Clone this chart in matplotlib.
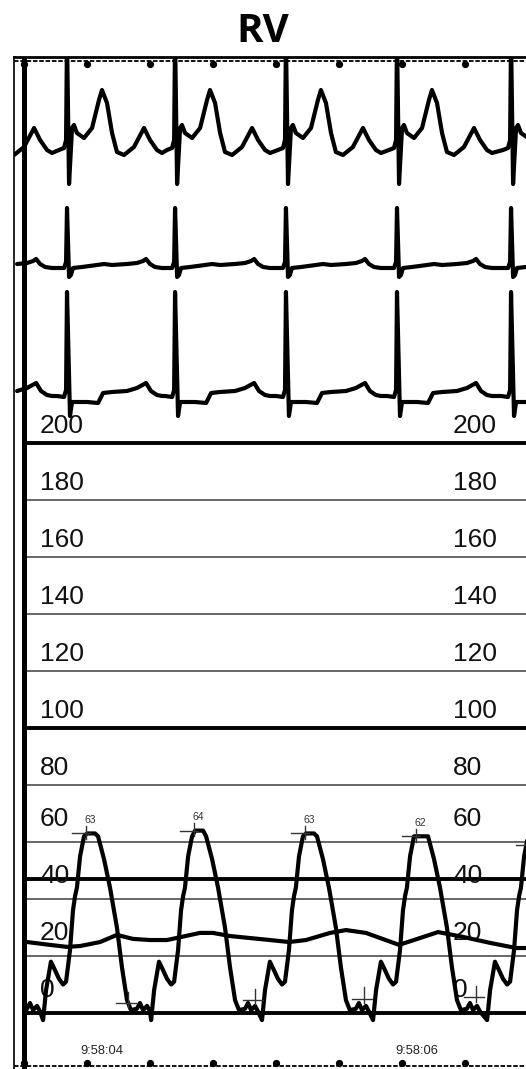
import matplotlib
matplotlib.use("Agg")
import matplotlib.pyplot as plt
import matplotlib.transforms as mtransforms

# time in seconds, 0 = 9:58:04
r_times = [-0.825, -0.127, 0.559, 1.263, 1.968, 2.692]

# ECG beat shapes (offset from R in s, amplitude in mV)
ecg1_off = [-0.051, -0.019, -0.006, 0.000, 0.013, 0.032, 0.044, 0.063, 0.108, 0.159, 0.203,
            0.222, 0.254, 0.286, 0.317, 0.362, 0.425, 0.489, 0.527, 0.571, 0.603]
ecg1_val = [-0.02, 0.00, 0.08, 1.10, -0.36, 0.20, 0.23, 0.15, 0.10, 0.20, 0.48,
            0.58, 0.45, 0.15, -0.04, -0.07, 0.01, 0.20, 0.08, -0.02, -0.05]

ecg2_off = [-0.063, -0.019, -0.006, 0.000, 0.013, 0.025, 0.038, 0.095, 0.190, 0.235, 0.286,
            0.381, 0.444, 0.483, 0.502, 0.527, 0.559, 0.603]
ecg2_val = [0.00, 0.00, 0.06, 0.60, -0.09, -0.07, 0.00, 0.01, 0.03, 0.04, 0.03,
            0.04, 0.05, 0.07, 0.09, 0.04, 0.01, 0.00]

ecg3_off = [-0.063, -0.019, -0.006, 0.000, 0.019, 0.032, 0.051, 0.127, 0.197, 0.229, 0.286,
            0.381, 0.444, 0.502, 0.533, 0.571, 0.603]
ecg3_val = [0.00, -0.01, 0.06, 1.04, -0.20, -0.06, -0.06, -0.06, -0.07, 0.03, 0.04,
            0.05, 0.08, 0.13, 0.05, 0.01, 0.00]

ecg_base = [2.95, 1.75, 0.47]

# RV pressure beat shape (offset from R in s, mmHg); None = systolic peak of the beat
prv_off = [-0.152, -0.133, -0.102, -0.076, -0.051, -0.025, -0.006, 0.019, 0.038, 0.051, 0.063,
           0.083, 0.108, 0.127, 0.178, 0.197, 0.235, 0.273, 0.317, 0.349, 0.381, 0.406,
           0.444, 0.463, 0.483, 0.508, 0.527]
prv_val = [-2.5, 8, 18, 15, 12, 10, 11, 22, 36, 41, 44,
           55, 62, None, None, 62, 54, 44, 30, 16, 4.5, 1,
           1.5, 3.5, 1, 2.5, 0.5]
peak_values = [63, 63, 64, 63, 62, 59]
peak_labels = ["63", "64", "63", "62"]

# end-diastolic markers
edp_times = [0.260, 1.067, 1.759, 2.470]
edp_values = [3.5, 4.5, 5.0, 5.5]

# slow second pressure trace
slow_t = [-0.381, -0.235, -0.127, -0.044, 0.083, 0.190, 0.292, 0.400, 0.508, 0.717, 0.800,
          0.908, 1.035, 1.162, 1.283, 1.390, 1.543, 1.644, 1.771, 1.981, 2.114, 2.229,
          2.387, 2.559, 2.724, 2.787]
slow_p = [24.9, 23.9, 23.2, 23.5, 24.9, 27.4, 26.0, 25.6, 25.6, 28.1, 28.1,
          27.0, 26.3, 25.6, 24.9, 25.6, 28.1, 29.1, 28.1, 23.9, 26.3, 28.4,
          26.7, 24.6, 22.8, 22.8]

scale_labels = [200, 180, 160, 140, 120, 100, 80, 60, 40, 20, 0]
thin_levels = [180, 160, 140, 120, 80, 60, 40, 20]
thick_levels = [200, 100, 47, 0]

tick_times = [-0.4, 0.0, 0.4, 0.8, 1.2, 1.6, 2.0, 2.4]
time_labels = {0.0: "9:58:04", 2.0: "9:58:06"}

ecg_start = -0.465
p_start = -0.381
t_left, t_right = -0.4635, 2.787


def build(times, offs, vals, t0, peaks=None):
    ts, vs = [], []
    for i, r in enumerate(times):
        for o, v in zip(offs, vals):
            if v is None:
                v = peaks[i]
            if r + o >= t0:
                ts.append(r + o)
                vs.append(v)
    return ts, vs


W, H = 526, 1069
fig = plt.figure(figsize=(W / 100, H / 100), dpi=100)
ax = fig.add_axes([14 / W, 0, 1 - 14 / W, (H - 57) / H])
ax.set_xlim(t_left, t_right)
ax.set_ylim(-19.65, 335.44)
ax.set_xticks([])
ax.set_yticks([])
for s in ("right", "bottom"):
    ax.spines[s].set_visible(False)
ax.spines["left"].set_linewidth(1.2)
ax.spines["top"].set_linewidth(2.0)

ecg = ax.twinx()
ecg.set_ylim(-6.26, 3.86)
ecg.set_yticks([])
for s in ecg.spines.values():
    s.set_visible(False)

# pressure grid
ax.hlines(thin_levels, -0.4, t_right, color="#5a5a5a", lw=1.3, zorder=1)
ax.hlines(thick_levels, -0.4, t_right, color="black", lw=2.8, zorder=1)
ax.axvline(-0.4, color="black", lw=3.6, zorder=4)

for v in scale_labels:
    dy = 3.5 if v >= 80 else 5.5
    for x in (-0.298, 2.324):
        ax.text(x, v + dy, str(v), fontsize=19, family="Liberation Sans",
                ha="left", va="baseline", color="#111111", zorder=1)

# time scale at top and bottom
trans = mtransforms.blended_transform_factory(ax.transData, ax.transAxes)
for yl, yb in ((0.996, 0.9935), (0.0025, 0.0058)):
    ax.plot([t_left, t_right], [yl, yl], transform=trans, color="black", lw=1.3,
            linestyle=(0, (2.5, 1)), clip_on=False)
    ax.plot(tick_times, [yb] * len(tick_times), "o", transform=trans, color="black",
            ms=4.2, clip_on=False)
for t, lab in time_labels.items():
    ax.text(t - 0.04, 0.0178, lab, transform=trans, fontsize=9.3, family="Liberation Sans",
            ha="left", va="center", color="#222222")

# ECG leads
for (offs, vals), base in zip(((ecg1_off, ecg1_val), (ecg2_off, ecg2_val), (ecg3_off, ecg3_val)),
                              ecg_base):
    ts, vs = build(r_times, offs, vals, ecg_start)
    ecg.plot(ts, [v + base for v in vs], color="black", lw=3.0, solid_joinstyle="round",
             solid_capstyle="round")

# pressures
ts, ps = build(r_times, prv_off, prv_val, p_start, peak_values)
ax.plot(ts, ps, color="black", lw=3.0, zorder=3, solid_joinstyle="round")
ax.plot(slow_t, slow_p, color="black", lw=3.0, zorder=3)

for i, lab in enumerate(peak_labels):
    r = r_times[i + 1]
    pk = peak_values[i + 1]
    ax.plot([r + 0.032, r + 0.146], [pk, pk], color="#333333", lw=1, zorder=3)
    ax.plot([r + 0.121, r + 0.121], [pk - 2, pk + 2.5], color="#333333", lw=1, zorder=3)
    ax.text(r + 0.146, pk + 4.7, lab, fontsize=7.5, family="Liberation Sans",
            ha="center", va="center", color="#333333", zorder=3)
r5 = r_times[-1]
ax.plot([r5 + 0.032, t_right], [peak_values[-1]] * 2, color="#333333", lw=1, zorder=3)

for t, v in zip(edp_times, edp_values):
    ax.plot([t - 0.076, t + 0.051], [v, v], color="#333333", lw=1, zorder=3)
    ax.plot([t, t], [v - 1.5, v + 4], color="#333333", lw=1, zorder=3)

fig.text(0.5, 1 - 42 / H, "RV", ha="center", va="baseline", fontsize=29,
         fontweight="bold", family="Open Sans")

fig.savefig("out.png", dpi=100, facecolor="white")
